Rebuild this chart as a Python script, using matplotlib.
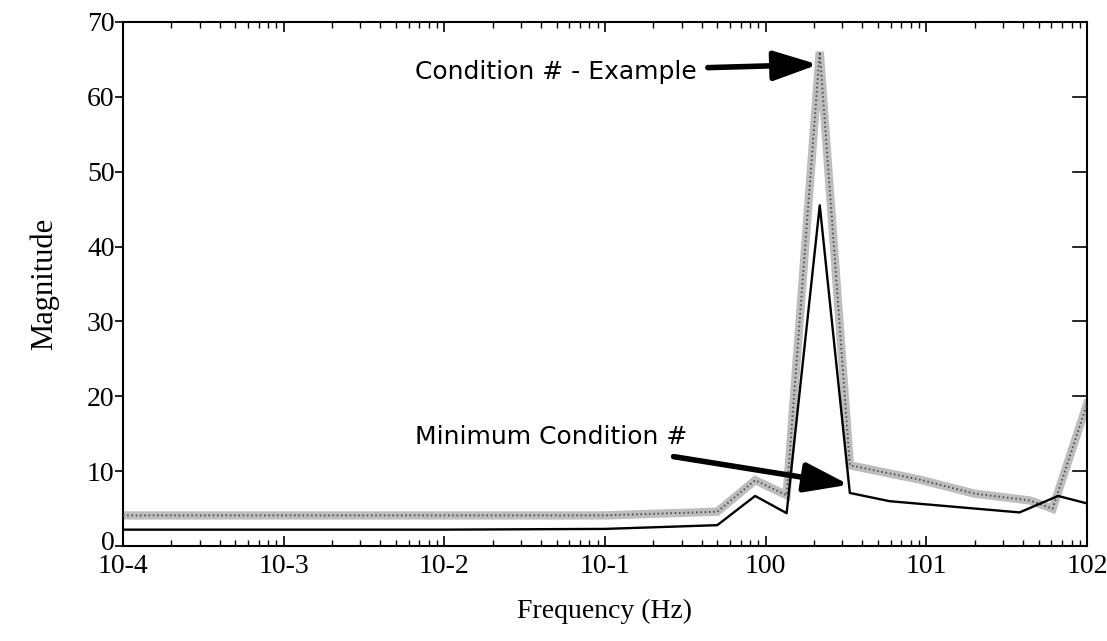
import numpy as np
import matplotlib.pyplot as plt
import matplotlib.transforms as mtransforms
from matplotlib.ticker import LogLocator, FixedLocator, NullFormatter

# frequency response, two conditions
freq_ex = [1e-4, 1e-3, 1e-2, 0.1, 0.5, 0.86, 1.35, 2.17, 3.34, 5.9, 9.0, 20.0, 44.0, 61.0, 100.0]
mag_ex = [4.1, 4.1, 4.1, 4.1, 4.6, 8.8, 6.8, 66.0, 10.8, 9.7, 8.9, 7.0, 6.1, 5.0, 19.0]

freq_min = [1e-4, 1e-3, 1e-2, 0.1, 0.5, 0.86, 1.35, 2.17, 3.34, 5.9, 38.0, 66.0, 100.0]
mag_min = [2.2, 2.2, 2.2, 2.3, 2.8, 6.7, 4.4, 45.5, 7.1, 6.0, 4.5, 6.7, 5.7]

xticks = [1e-4, 1e-3, 1e-2, 1e-1, 1e0, 1e1, 1e2]
xticklabels = ['10-4', '10-3', '10-2', '10-1', '100', '101', '102']
yticks = [0, 10, 20, 30, 40, 50, 60, 70]

serif = ['Liberation Serif', 'DejaVu Serif']

fig = plt.figure(figsize=(11.07, 6.41), dpi=100)
ax = fig.add_axes([0.111, 0.148, 0.871, 0.818])

# stippled grey trace: light thick line with a fine dotted overlay
ax.plot(freq_ex, mag_ex, color='#bdbdbd', lw=6, solid_joinstyle='miter', zorder=2)
ax.plot(freq_ex, mag_ex, color='#505050', lw=1.4, dashes=(0.8, 1.4), zorder=3)
ax.plot(freq_min, mag_min, color='black', lw=1.7, zorder=4)

ax.set_xscale('log')
ax.set_xlim(1e-4, 1e2)
ax.set_ylim(0, 70)

ax.xaxis.set_major_locator(FixedLocator(xticks))
ax.set_xticklabels(xticklabels, fontfamily=serif, fontsize=20)
ax.xaxis.set_minor_locator(LogLocator(base=10, subs=np.arange(2, 10), numticks=20))
ax.xaxis.set_minor_formatter(NullFormatter())
ax.set_yticks(yticks)
ax.set_yticklabels([str(v) for v in yticks], fontfamily=serif, fontsize=20)

ax.tick_params(axis='x', which='major', direction='in', top=True, length=7, width=1.2, pad=6)
ax.tick_params(axis='x', which='minor', direction='in', top=True, length=4, width=1.0)
ax.tick_params(axis='y', which='major', direction='out', left=True, right=False, length=6, width=1.2, pad=0)
for v in yticks[1:-1]:
    ax.plot([1e2 / 10 ** 0.09, 1e2], [v, v], color='black', lw=1.2, clip_on=False, zorder=5)

# lift the "0" label a little so it clears the first frequency label
zero_lbl = ax.get_yticklabels()[0]
zero_lbl.set_transform(zero_lbl.get_transform() +
                       mtransforms.ScaledTranslation(0, 4 / 72, fig.dpi_scale_trans))

for s in ax.spines.values():
    s.set_linewidth(1.5)

ax.set_xlabel('Frequency (Hz)', fontfamily=serif, fontsize=20, labelpad=14)
ax.set_ylabel('Magnitude', fontfamily=serif, fontsize=22, labelpad=20)

arrow = dict(arrowstyle='-|>,head_length=1.5,head_width=0.5', lw=4, color='black', shrinkB=0)
ax.annotate('Condition # - Example', xy=(2.12, 64.3), xytext=(415, 641 - 72),
            textcoords='figure pixels', fontsize=18, fontfamily='DejaVu Sans',
            va='center', ha='left', arrowprops=dict(arrow, shrinkA=6))
ax.annotate('Minimum Condition #', xy=(3.3, 8.2), xytext=(415, 641 - 437),
            textcoords='figure pixels', fontsize=18, fontfamily='DejaVu Sans',
            va='center', ha='left', arrowprops=dict(arrow, shrinkA=22))

fig.savefig('out.png', dpi=100)
